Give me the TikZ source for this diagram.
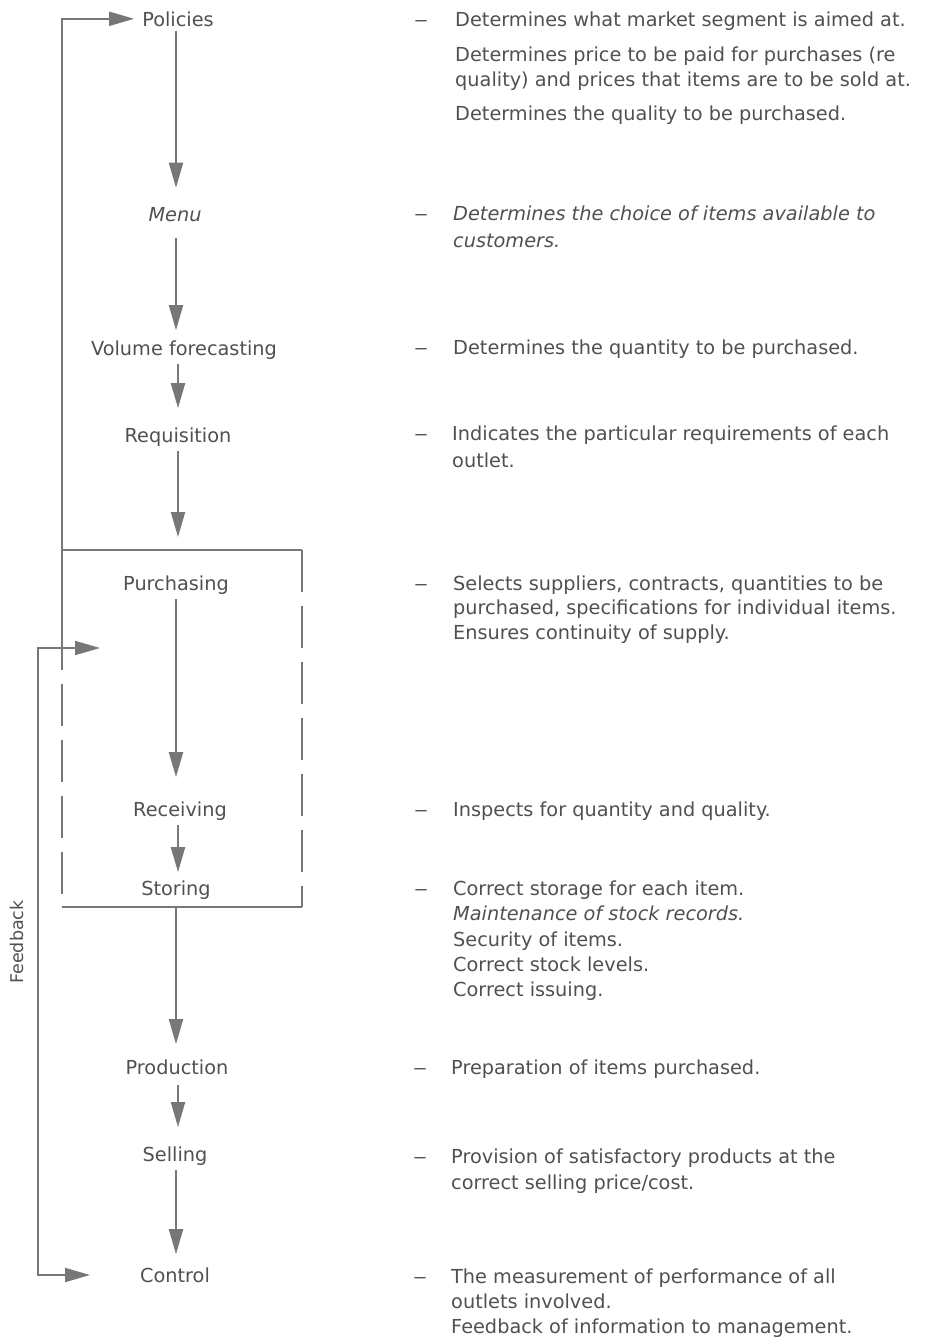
\documentclass[tikz,border=0pt]{standalone}
\usepackage{fontspec}
\setmainfont{DejaVu Sans}
\usetikzlibrary{arrows.meta,calc}
\definecolor{ink}{HTML}{505050}
\definecolor{lncol}{HTML}{777777}
\newcommand{\fsz}{\fontsize{19.3}{25}\selectfont}
\newcommand{\wdash}{\scalebox{1.45}[1]{–}}
\begin{document}
\begin{tikzpicture}[x=1pt,y=-1pt,
  lab/.style={font=\fsz, text=ink, anchor=base, inner xsep=2pt, inner ysep=5pt},
  labit/.style={lab, font=\fsz\itshape},
  desc/.style={font=\fsz, text=ink, anchor=base west, inner sep=0pt},
  descit/.style={desc, font=\fsz\itshape},
  dsh/.style={font=\fsz, text=ink, anchor=base, inner sep=0pt},
  arr/.style={draw=lncol, line width=2pt, -{Triangle[length=25pt,width=14pt]}},
  arrboth/.style={draw=lncol, line width=2pt, {Triangle[length=25pt,width=14pt]}-{Triangle[length=25pt,width=14pt]}},
  frame/.style={draw=lncol, line width=2pt},
  dframe/.style={frame, dash pattern=on 42pt off 14pt}
]
\useasboundingbox (0,0) rectangle (925,1339);

% left column labels
\node[lab]   (pol) at (178,26)   {Policies};
\node[labit] (menu) at (175,221) {Menu};
\node[lab]   (vol) at (184,355)  {Volume forecasting};
\node[lab]   (req) at (178,442)  {Requisition};
\node[lab]   (pur) at (176,590)  {Purchasing};
\node[lab]   (rec) at (180,816)  {Receiving};
\node[lab]   (sto) at (176,895)  {Storing};
\node[lab]   (pro) at (177,1074) {Production};
\node[lab]   (sel) at (175,1161) {Selling};
\node[lab]   (con) at (175,1282) {Control};

\coordinate (ax) at (176,0);
\coordinate (axb) at (178,0);

% box
\coordinate (btl) at (62,550);
\coordinate (btr) at (302,550);
\coordinate (bbl) at (62,907);
\coordinate (bbr) at (302,907);
\draw[frame] (btl) -- (btr);
\draw[frame] (bbl) -- (bbr);
\draw[dframe] (btl) ++(0,78) -- (bbl);
\draw[frame] (btl) -- ++(0,78);
\draw[dframe] (btr) -- (bbr);

% loop to policies
\draw[arr, shorten >=6pt] (btl) |- (pol.west);

% vertical arrows
\draw[arr, shorten >=14pt] (pol.south -| ax) -- (menu.north -| ax);
\draw[arr, shorten <=12pt, shorten >=5pt] (menu.south -| ax) -- (vol.north -| ax);
\draw[arr, shorten >=14pt] (vol.south -| axb) -- (req.north -| axb);
\draw[arr, shorten >=13pt] (req.south -| axb) -- (btl -| axb);
\draw[arr, shorten >=19pt] (pur.south -| ax) -- (rec.north -| ax);
\draw[arr, shorten >=3pt] (rec.south -| axb) -- (sto.north -| axb);
\draw[arr, shorten >=10pt] (bbl -| ax) -- (pro.north -| ax);
\draw[arr, shorten <=6pt, shorten >=14pt] (pro.south -| axb) -- (sel.north -| axb);
\draw[arr, shorten >=8pt] (sel.south -| ax) -- (con.north -| ax);

% feedback loop
\coordinate (fbin) at (100,648);
\coordinate (fbc1) at (38,648);
\coordinate (fbc2) at (38,1275);
\coordinate (fbout) at (90,1275);
\draw[arrboth] (fbin) -- (fbc1) -- (fbc2) -- (fbout);
\node[font=\fontsize{17.5}{20}\selectfont, text=ink, rotate=90] (fbl) at (17,942) {Feedback};

% descriptions
\node[dsh] (s1) at (421,26) {\wdash};
\node[desc] (d1) at (455,26) {Determines what market segment is aimed at.};
\node[desc] (d2) at (455,61) {Determines price to be paid for purchases (re};
\node[desc] (d3) at (455,86) {quality) and prices that items are to be sold at.};
\node[desc] (d4) at (455,120) {Determines the quality to be purchased.};

\node[dsh] (s2) at (421,220) {\wdash};
\node[descit] (d5) at (453,220) {Determines the choice of items available to};
\node[descit] (d6) at (453,247) {customers.};

\node[dsh] (s3) at (421,354) {\wdash};
\node[desc] (d7) at (453,354) {Determines the quantity to be purchased.};

\node[dsh] (s4) at (421,440) {\wdash};
\node[desc] (d8) at (452,440) {Indicates the particular requirements of each};
\node[desc] (d9) at (452,467) {outlet.};

\node[dsh] (s5) at (421,590) {\wdash};
\node[desc] (d10) at (453,590) {Selects suppliers, contracts, quantities to be};
\node[desc] (d11) at (453,614) {purchased, specifications for individual items.};
\node[desc] (d12) at (453,639) {Ensures continuity of supply.};

\node[dsh] (s6) at (421,816) {\wdash};
\node[desc] (d13) at (453,816) {Inspects for quantity and quality.};

\node[dsh] (s7) at (421,895) {\wdash};
\node[desc] (d14) at (453,895) {Correct storage for each item.};
\node[descit] (d15) at (453,920) {Maintenance of stock records.};
\node[desc] (d16) at (453,946) {Security of items.};
\node[desc] (d17) at (453,971) {Correct stock levels.};
\node[desc] (d18) at (453,996) {Correct issuing.};

\node[dsh] (s8) at (420,1074) {\wdash};
\node[desc] (d19) at (451,1074) {Preparation of items purchased.};

\node[dsh] (s9) at (420,1163) {\wdash};
\node[desc] (d20) at (451,1163) {Provision of satisfactory products at the};
\node[desc] (d21) at (451,1189) {correct selling price/cost.};

\node[dsh] (s10) at (420,1283) {\wdash};
\node[desc] (d22) at (451,1283) {The measurement of performance of all};
\node[desc] (d23) at (451,1308) {outlets involved.};
\node[desc] (d24) at (451,1333) {Feedback of information to management.};
\end{tikzpicture}
\end{document}
